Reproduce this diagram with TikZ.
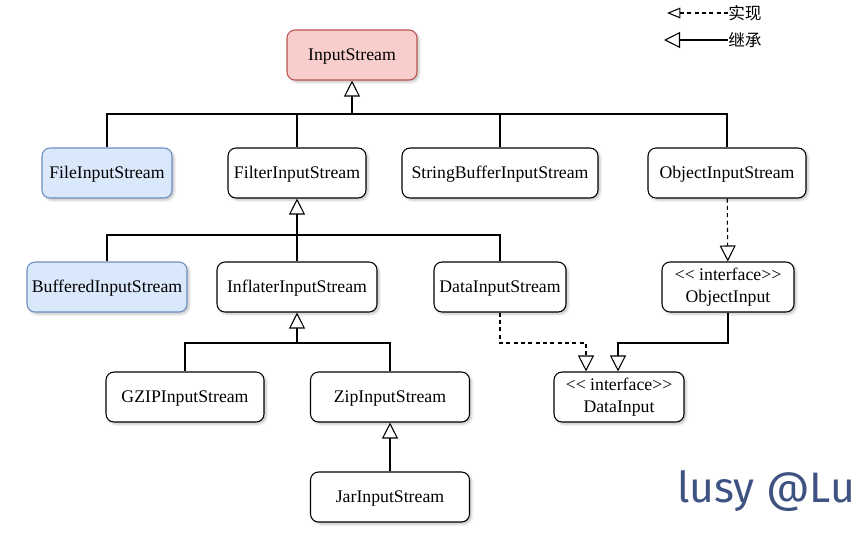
\documentclass[tikz,border=0pt]{standalone}
\usepackage{fontspec}
\setmainfont{Liberation Serif}
\newfontfamily\cjk{Noto Sans CJK SC}
\newfontfamily\sign{Fira Sans}
\usepackage{tikz}
\usetikzlibrary{
arrows.meta,
shadows.blur,
positioning
}
\definecolor{redfill}{HTML}{F8CECC}
\definecolor{redline}{HTML}{B85450}
\definecolor{bluefill}{HTML}{DAE8FC}
\definecolor{blueline}{HTML}{6C8EBF}
\definecolor{signblue}{HTML}{3E5382}
\newcommand{\iface}{\textless\kern0pt\textless\ interface\textgreater\kern0pt\textgreater}

\begin{document}
\begin{tikzpicture}[x=0.75pt,y=-0.75pt,
  cls/.style={draw,line width=0.8pt,rounded corners=6pt,fill=white,
    minimum height=37.5pt,inner sep=0pt,align=center,
    text height=10pt,text depth=1.2pt,
    font=\fontsize{13.3}{16.2}\selectfont,
    blur shadow={shadow xshift=1.5pt,shadow yshift=-1.5pt,shadow blur steps=4,shadow opacity=25}},
  rootcls/.style={cls,draw=redline,fill=redfill},
  filecls/.style={cls,draw=blueline,fill=bluefill},
  ifcls/.style={cls,text height=,text depth=},
  link/.style={line width=0.8pt},
  inh/.style={link,-{Triangle[open,length=12pt,width=12pt]}},
  impl/.style={inh,dash pattern=on 3pt off 2.5pt},
  legend/.style={anchor=west,inner sep=0pt,font=\cjk\fontsize{12.5}{14}\selectfont}]
      \useasboundingbox (0,0) rectangle (866,532);
      % classes
      \node[rootcls,minimum width=97.5pt] (ins) at (352,55) {InputStream};
      \node[filecls,minimum width=97.5pt] (fis) at (107,173) {FileInputStream};
      \node[cls,minimum width=103.5pt] (filt) at (297,173) {FilterInputStream};
      \node[cls,minimum width=147pt] (sbis) at (500,173) {StringBufferInputStream};
      \node[cls,minimum width=118.5pt] (ois) at (727,173) {ObjectInputStream};
      \node[filecls,minimum width=120pt] (bis) at (107,287) {BufferedInputStream};
      \node[cls,minimum width=120pt] (iis) at (297,287) {InflaterInputStream};
      \node[cls,minimum width=99pt] (dis) at (500,287) {DataInputStream};
      \node[ifcls,minimum width=99pt] (oi) at (728,287) {\iface\\ObjectInput};
      \node[cls,minimum width=118.5pt] (gzip) at (185,397) {GZIPInputStream};
      \node[cls,minimum width=119.25pt] (zis) at (390,397) {ZipInputStream};
      \node[ifcls,minimum width=97.5pt] (di) at (619,397) {\iface\\DataInput};
      \node[cls,minimum width=119.25pt] (jis) at (390,497) {JarInputStream};
      % inheritance
      \coordinate (b1) at (352,114);
      \coordinate (b2) at (297,235);
      \coordinate (b3) at (297,343);
      \foreach \c in {fis,filt,sbis,ois} \draw[link] (\c.north) |- (b1);
      \draw[inh] (b1) -- (ins.south);
      \foreach \c in {bis,iis,dis} \draw[link] (\c.north) |- (b2);
      \draw[inh] (b2) -- (filt.south);
      \foreach \c in {gzip,zis} \draw[link] (\c.north) |- (b3);
      \draw[inh] (b3) -- (iis.south);
      \draw[inh] (jis) -- (zis);
      % interfaces
      \coordinate (dl) at (586,343);
      \coordinate (dr) at (618,343);
      \draw[impl] (ois) -- (oi);
      \draw[impl] (dis.south) |- (dl) -- (dl |- di.north);
      \draw[inh] (oi.south) |- (dr) -- (dr |- di.north);
      % legend
      \node[legend] (limpl) at (728,13) {实现};
      \node[legend] (linh) at (728,40) {继承};
      \coordinate (timpl) at (667,13);
      \coordinate (tinh) at (664,40);
      \draw[impl,-{Triangle[open,length=10pt,width=8pt]}] (limpl.west) -- (timpl);
      \draw[inh] (linh.west) -- (tinh);
      \node[anchor=base west,inner sep=0pt,text=signblue,font=\sign\fontsize{32}{36}\selectfont] (mark) at (677,502) {lusy @Lu};
\end{tikzpicture}
\end{document}
